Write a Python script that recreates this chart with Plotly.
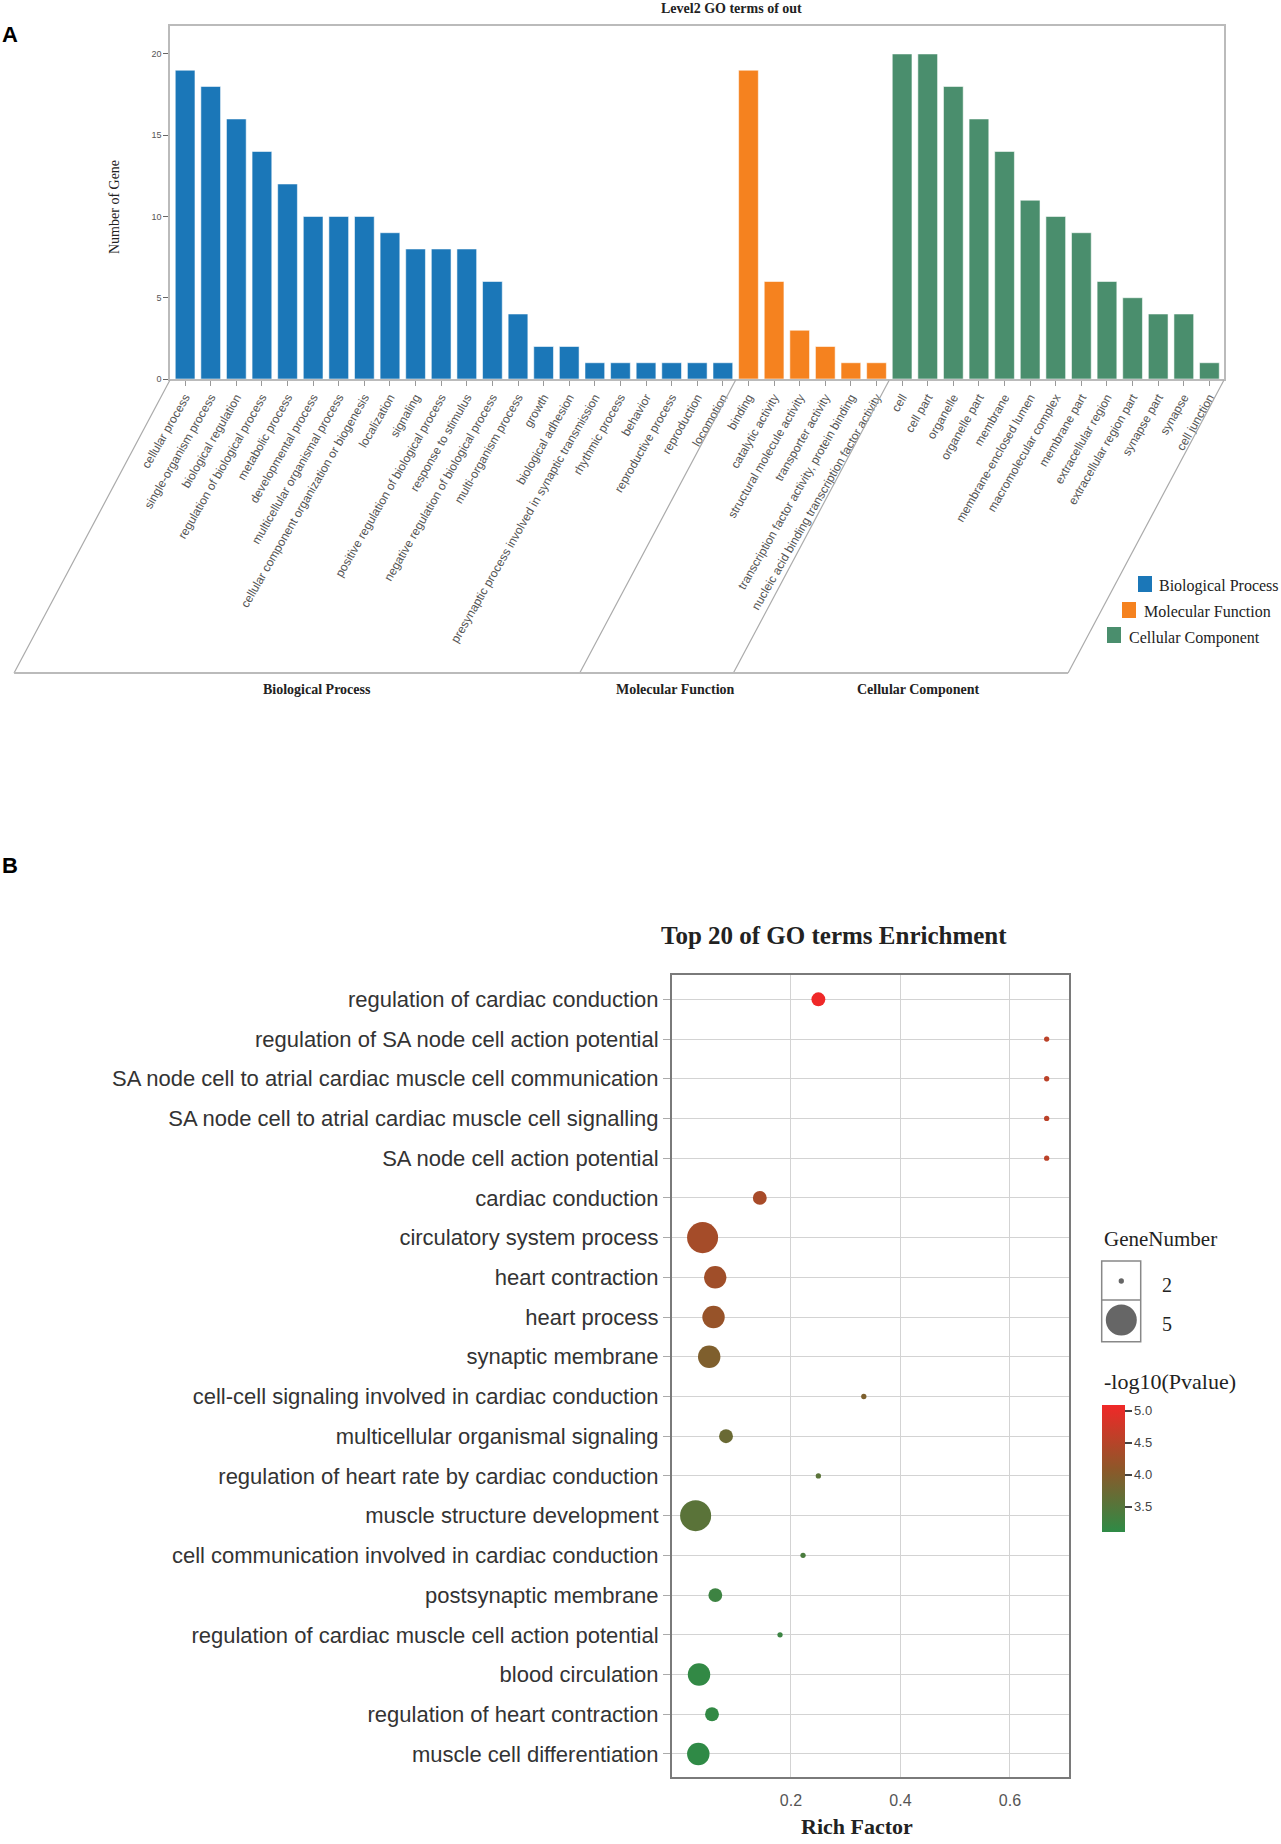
import plotly.graph_objects as go

# ---------------- Panel A data ----------------
cats_bp = ["cellular process", "single-organism process", "biological regulation",
           "regulation of biological process", "metabolic process", "developmental process",
           "multicellular organismal process", "cellular component organization or biogenesis",
           "localization", "signaling", "positive regulation of biological process",
           "response to stimulus", "negative regulation of biological process",
           "multi-organism process", "growth", "biological adhesion",
           "presynaptic process involved in synaptic transmission", "rhythmic process",
           "behavior", "reproductive process", "reproduction", "locomotion"]
vals_bp = [19, 18, 16, 14, 12, 10, 10, 10, 9, 8, 8, 8, 6, 4, 2, 2, 1, 1, 1, 1, 1, 1]

cats_mf = ["binding", "catalytic activity", "structural molecule activity",
           "transporter activity", "transcription factor activity, protein binding",
           "nucleic acid binding transcription factor activity"]
vals_mf = [19, 6, 3, 2, 1, 1]

cats_cc = ["cell", "cell part", "organelle", "organelle part", "membrane",
           "membrane-enclosed lumen", "macromolecular complex", "membrane part",
           "extracellular region", "extracellular region part", "synapse part",
           "synapse", "cell junction"]
vals_cc = [20, 20, 18, 16, 14, 11, 10, 9, 6, 5, 4, 4, 1]

group_names = ["Biological Process", "Molecular Function", "Cellular Component"]
group_colors = ["#1B77B8", "#F5821F", "#4A8E6D"]
y_ticks_a = [0, 5, 10, 15, 20]

# ---------------- Panel B data ----------------
terms = ["regulation of cardiac conduction",
         "regulation of SA node cell action potential",
         "SA node cell to atrial cardiac muscle cell communication",
         "SA node cell to atrial cardiac muscle cell signalling",
         "SA node cell action potential",
         "cardiac conduction",
         "circulatory system process",
         "heart contraction",
         "heart process",
         "synaptic membrane",
         "cell-cell signaling involved in cardiac conduction",
         "multicellular organismal signaling",
         "regulation of heart rate by cardiac conduction",
         "muscle structure development",
         "cell communication involved in cardiac conduction",
         "postsynaptic membrane",
         "regulation of cardiac muscle cell action potential",
         "blood circulation",
         "regulation of heart contraction",
         "muscle cell differentiation"]
rich_factor = [0.25, 0.667, 0.667, 0.667, 0.667, 0.143, 0.0385, 0.0616, 0.0585, 0.0506,
               0.333, 0.0813, 0.25, 0.0258, 0.222, 0.0618, 0.180, 0.032, 0.0557, 0.0307]
gene_number = [3, 2, 2, 2, 2, 3, 5, 4, 4, 4, 2, 3, 2, 5, 2, 3, 2, 4, 3, 4]
neg_log_p = [5.08, 4.55, 4.55, 4.55, 4.55, 4.36, 4.33, 4.28, 4.19, 3.95,
             3.92, 3.73, 3.56, 3.56, 3.40, 3.26, 3.24, 3.15, 3.15, 3.12]
x_ticks_b = [0.2, 0.4, 0.6]
cbar_ticks = [3.5, 4.0, 4.5, 5.0]
legend_sizes = [2, 5]

# ---------------- helpers ----------------
W, H = 1281, 1844
def X(p):
    return p / W
def Y(p):
    return 1 - p / H

def bubble(n):
    return 5.3 + (n - 2) * 8.57

SERIF = "Liberation Serif, Times New Roman, serif"
SANS = "Liberation Sans, Arial, sans-serif"

all_cats = cats_bp + cats_mf + cats_cc
n_all = len(all_cats)
XR_A = [-0.59, n_all - 1 + 0.57]          # category-index range of panel A

def dom(i):
    """category index -> fraction of the x-axis domain of panel A"""
    return (i - XR_A[0]) / (XR_A[1] - XR_A[0])

fig = go.Figure()
for name, cats, vals, col in zip(group_names, [cats_bp, cats_mf, cats_cc],
                                 [vals_bp, vals_mf, vals_cc], group_colors):
    fig.add_trace(go.Bar(x=cats, y=vals, name=name, width=0.77,
                         marker=dict(color=col, line=dict(color="rgba(255,255,255,0.55)", width=1)),
                         xaxis="x", yaxis="y", showlegend=False))

fig.add_trace(go.Scatter(
    x=rich_factor, y=terms, mode="markers", xaxis="x2", yaxis="y2", showlegend=False,
    marker=dict(size=[bubble(n) for n in gene_number], color=neg_log_p,
                colorscale=[[0, "#2E8B46"], [0.5, "#8E5729"], [1, "#F02828"]], cmin=3.11, cmax=5.09,
                line=dict(width=0), opacity=1,
                colorbar=dict(x=X(1101.7), xanchor="left", y=Y(1468.3), yanchor="middle",
                              len=126.7, lenmode="pixels", thickness=23, thicknessmode="pixels",
                              tickvals=cbar_ticks, ticktext=["%.1f" % v for v in cbar_ticks],
                              ticks="outside", ticklen=7, tickwidth=2, tickcolor="#444",
                              tickfont=dict(family=SANS, size=13, color="#444"),
                              outlinewidth=0, xpad=0, ypad=0))))

SLANT = -6.09  # horizontal offset (in category units) of the slanted bracket lines
bounds = [XR_A[0], len(cats_bp) - 0.5, len(cats_bp) + len(cats_mf) - 0.5, XR_A[1]]
shapes = []
for b in bounds:
    shapes.append(dict(type="line", xref="x domain", yref="paper", x0=dom(b), y0=Y(380),
                       x1=dom(b + SLANT), y1=Y(673), line=dict(color="#aaaaaa", width=1.2)))
shapes.append(dict(type="line", xref="x domain", yref="paper", x0=dom(bounds[0] + SLANT), y0=Y(673),
                   x1=dom(bounds[-1] + SLANT), y1=Y(673), line=dict(color="#bbbbbb", width=2)))

annotations = []
starts = [0, len(cats_bp), len(cats_bp) + len(cats_mf)]
ends = [len(cats_bp) - 1, len(cats_bp) + len(cats_mf) - 1, n_all - 1]
for name, s, e in zip(group_names, starts, ends):
    annotations.append(dict(xref="x", yref="paper", x=(s + e) / 2 - 5.35, y=Y(689), text="<b>%s</b>" % name,
                            showarrow=False, font=dict(family=SERIF, size=14, color="#222"),
                            xanchor="center", yanchor="middle"))

# legend of panel A (staggered, drawn manually)
leg_pos = [(1138, 576, 1157, 586), (1122, 602, 1142, 611.5), (1107, 627, 1127, 637.5)]
for (sx, sy, tx, ty), name, col in zip(leg_pos, group_names, group_colors):
    shapes.append(dict(type="rect", xref="paper", yref="paper", x0=X(sx), x1=X(sx + 14),
                       y0=Y(sy + 16), y1=Y(sy), fillcolor=col, line=dict(width=0)))
    annotations.append(dict(xref="paper", yref="paper", x=X(tx), y=Y(ty), text=name, showarrow=False,
                            xanchor="left", yanchor="middle", font=dict(family=SERIF, size=16, color="#222")))

# GeneNumber legend of panel B
shapes.append(dict(type="rect", xref="paper", yref="paper", x0=X(1101.7), x1=X(1140.7),
                   y0=Y(1341.7), y1=Y(1261), line=dict(color="#888", width=1.5)))
shapes.append(dict(type="line", xref="paper", yref="paper", x0=X(1101.7), x1=X(1140.7),
                   y0=Y(1300), y1=Y(1300), line=dict(color="#888", width=1.5)))
for n, cy, ly in zip(legend_sizes, [1281, 1320], [1284.5, 1324]):
    r = bubble(n) / 2
    shapes.append(dict(type="circle", xref="paper", yref="paper", x0=X(1121.3 - r), x1=X(1121.3 + r),
                       y0=Y(cy + r), y1=Y(cy - r), fillcolor="#666", line=dict(width=0)))
    annotations.append(dict(xref="paper", yref="paper", x=X(1160), y=Y(ly), text=str(n), showarrow=False,
                            xanchor="left", yanchor="middle", font=dict(family=SERIF, size=20, color="#222")))

texts = [
    ("A", 10, 34, SANS, 22, "#000", True, "center", 0),
    ("B", 10, 865, SANS, 22, "#000", True, "center", 0),
    ("Level2 GO terms of out", 731.6, 8, SERIF, 14, "#222", True, "center", 0),
    ("Number of Gene", 114, 207, SERIF, 14, "#222", False, "center", -90),
    ("Top 20 of GO terms Enrichment", 834, 935, SERIF, 25, "#222", True, "center", 0),
    ("Rich Factor", 856.7, 1826, SERIF, 22, "#222", True, "center", 0),
    ("GeneNumber", 1101.7, 1239, SERIF, 21, "#222", False, "left", 0),
    ("-log10(Pvalue)", 1101.7, 1381.7, SERIF, 22, "#222", False, "left", 0),
]
for t, x, y, fam, sz, col, bold, xa, ang in texts:
    annotations.append(dict(xref="paper", yref="paper", x=X(x), y=Y(y),
                            text="<b>%s</b>" % t if bold else t, showarrow=False,
                            xanchor=xa, yanchor="middle", textangle=ang,
                            font=dict(family=fam, size=sz, color=col)))

fig.update_layout(
    width=W, height=H, margin=dict(l=0, r=0, t=0, b=0, pad=0, autoexpand=False), autosize=False,
    paper_bgcolor="white", plot_bgcolor="white", barmode="relative",
    xaxis=dict(domain=[X(170), X(1224)], anchor="y", type="category", categoryorder="array",
               categoryarray=all_cats, range=XR_A, tickmode="array", automargin=False,
               tickvals=all_cats, ticktext=all_cats, tickangle=-60, ticks="outside", ticklen=5,
               tickcolor="#999", tickfont=dict(family=SANS, size=12, color="#555"),
               showline=True, linecolor="#bbbbbb", linewidth=1.5, mirror=True,
               showgrid=False, zeroline=False),
    yaxis=dict(domain=[Y(379), Y(26)], anchor="x", range=[0, 21.72], tickmode="array",
               tickvals=y_ticks_a, ticks="outside", ticklen=5, tickcolor="#666", automargin=False,
               tickfont=dict(family=SANS, size=9, color="#555"),
               showline=True, linecolor="#bbbbbb", linewidth=1.5, mirror=True,
               showgrid=False, zeroline=False),
    xaxis2=dict(domain=[X(672), X(1069)], anchor="y2", range=[-0.01735, 0.7078], tickmode="array",
                tickvals=x_ticks_b, ticktext=["%.1f" % v for v in x_ticks_b], ticks="",
                ticklabelstandoff=8, automargin=False,
                tickfont=dict(family=SANS, size=16, color="#555"),
                showgrid=True, gridcolor="#d3d3d3", gridwidth=1.3,
                showline=True, linecolor="#7a7a7a", linewidth=2, mirror=True, zeroline=False),
    yaxis2=dict(domain=[Y(1777), Y(975)], anchor="x2", type="category", categoryorder="array",
                categoryarray=terms, range=[19.58, -0.612], ticks="outside", ticklen=7,
                tickcolor="#aaa", ticklabelstandoff=0, automargin=False,
                tickfont=dict(family=SANS, size=22, color="#333"),
                showgrid=True, gridcolor="#d3d3d3", gridwidth=1.3,
                showline=True, linecolor="#7a7a7a", linewidth=2, mirror=True, zeroline=False),
    shapes=shapes, annotations=annotations,
)

fig.write_html("out.html", config={"displayModeBar": False},
               post_script="document.body.style.margin='0';")
